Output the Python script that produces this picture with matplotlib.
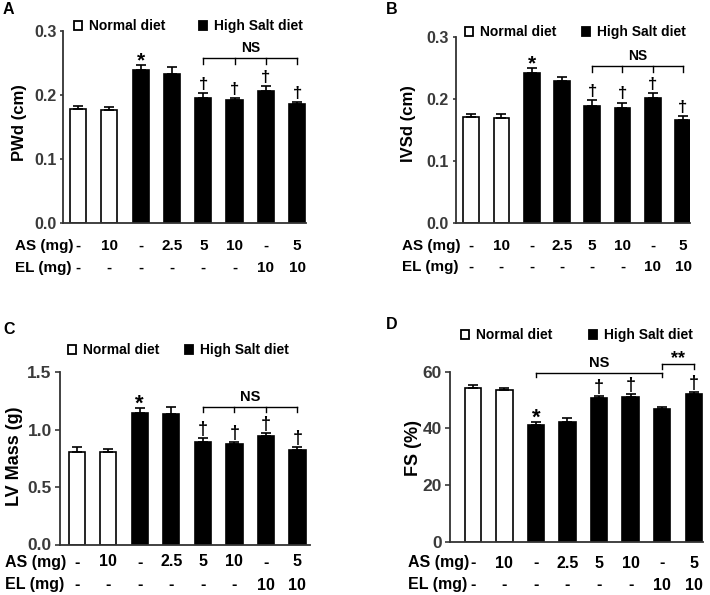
import matplotlib
matplotlib.use('Agg')
import matplotlib.pyplot as plt
from matplotlib.patches import Patch
from matplotlib import transforms
import numpy as np

plt.rcParams['font.family'] = ['Liberation Sans', 'DejaVu Sans']
plt.rcParams['font.weight'] = 'bold'

# groups
as_labels = ['-', '10', '-', '2.5', '5', '10', '-', '5']
el_labels = ['-', '-', '-', '-', '-', '-', '10', '10']
normal_diet = [True, True, False, False, False, False, False, False]

# A: PWd (cm)
pwd_mean = [0.179, 0.177, 0.240, 0.234, 0.196, 0.192, 0.207, 0.186]
pwd_err = [0.004, 0.004, 0.008, 0.010, 0.007, 0.004, 0.008, 0.004]
# B: IVSd (cm)
ivsd_mean = [0.171, 0.169, 0.241, 0.228, 0.189, 0.186, 0.201, 0.166]
ivsd_err = [0.004, 0.006, 0.008, 0.008, 0.009, 0.008, 0.008, 0.007]
# C: LV Mass (g)
lvm_mean = [0.804, 0.804, 1.146, 1.132, 0.892, 0.874, 0.947, 0.819]
lvm_err = [0.047, 0.026, 0.038, 0.064, 0.032, 0.018, 0.021, 0.029]
# D: FS (%)
fs_mean = [54.3, 53.4, 41.3, 42.2, 50.6, 51.1, 46.7, 52.0]
fs_err = [0.9, 0.95, 0.9, 1.5, 0.9, 0.9, 0.9, 0.9]

W, H = 710, 595
fig = plt.figure(figsize=(7.1, 5.95), dpi=100)
DARK = '#333333'


def fx(x):
    return x / W


def fy(y):
    return 1 - y / H


def panel(letter, letter_pos, box, xlim, ylim, yticks, ticklabels, means, errs,
          ylabel, ylabel_pos, star, daggers, brackets, legend_pos, colspace,
          row_x, row_y, fs):
    left, right, top, bottom = box
    ax = fig.add_axes([fx(left), fy(bottom), fx(right - left), (bottom - top) / H])
    x = np.arange(len(means))
    colors = ['white' if n else 'black' for n in normal_diet]
    ax.bar(x, means, 0.52, color=colors, edgecolor='black', linewidth=1.2, zorder=2)
    ax.errorbar(x, means, yerr=[np.zeros(len(errs)), errs], fmt='none',
                ecolor='black', elinewidth=1.2, capsize=3.5, capthick=1.2, zorder=3)
    ax.set_xlim(*xlim)
    ax.set_ylim(*ylim)
    ax.set_xticks([])
    ax.set_yticks(yticks)
    ax.set_yticklabels(ticklabels)
    ax.tick_params(axis='y', direction='out', length=fs['tl'], width=1.2,
                   colors='#3a3a3a', labelsize=fs['tick'], pad=2.5)
    for s in ['top', 'right']:
        ax.spines[s].set_visible(False)
    for s in ['left', 'bottom']:
        ax.spines[s].set_linewidth(1.3)
        ax.spines[s].set_color(DARK)

    tops = [m + e for m, e in zip(means, errs)]
    ax.annotate('*', (star, tops[star]), xytext=(0, fs['star_off']),
                textcoords='offset points', ha='center', va='baseline',
                fontsize=fs['star'], annotation_clip=False)
    for i in daggers:
        ax.annotate('\u2020', (i, tops[i]), xytext=(0, fs['dag_off']),
                    textcoords='offset points', ha='center', va='baseline',
                    fontsize=fs['dag'], annotation_clip=False)

    for ticks, y, tl, txt in brackets:
        ax.plot([ticks[0], ticks[-1]], [y, y], color='black', lw=1.0, clip_on=False)
        for t in ticks:
            ax.plot([t, t], [y, y - tl], color='black', lw=1.0, clip_on=False)
        if txt == '**':
            ax.annotate(txt, ((ticks[0] + ticks[-1]) / 2, y), xytext=(0, 0.5),
                        textcoords='offset points', ha='center', va='baseline',
                        fontsize=13, annotation_clip=False)
        else:
            ax.annotate(txt, ((ticks[0] + ticks[-1]) / 2, y), xytext=(0, 2),
                        textcoords='offset points', ha='center', va='bottom',
                        fontsize=fs['ns'], annotation_clip=False)

    handles = [Patch(facecolor='white', edgecolor='black', linewidth=1.3),
               Patch(facecolor='black', edgecolor='black', linewidth=1.3)]
    fig.legend(handles, ['Normal diet', 'High Salt diet'], ncol=2, frameon=False,
               loc='center left', bbox_to_anchor=(fx(legend_pos[0]), fy(legend_pos[1])),
               borderpad=0, borderaxespad=0, handlelength=0.6, handleheight=0.6,
               handletextpad=0.5, columnspacing=colspace, fontsize=10)

    tr = transforms.blended_transform_factory(ax.transData, fig.transFigure)
    fig.text(fx(row_x), fy(row_y[0]), 'AS (mg)', ha='left', va='center', fontsize=fs['row'])
    fig.text(fx(row_x), fy(row_y[1]), 'EL (mg)', ha='left', va='center', fontsize=fs['row'])
    for i in x:
        ax.text(i, fy(row_y[0]), as_labels[i], transform=tr, ha='center', va='center',
                fontsize=fs['row'])
        ax.text(i, fy(row_y[1]), el_labels[i], transform=tr, ha='center', va='center',
                fontsize=fs['row'])

    fig.text(fx(ylabel_pos[0]), fy(ylabel_pos[1]), ylabel, rotation=90,
             ha='center', va='center', fontsize=fs['ylab'])
    fig.text(fx(letter_pos[0]), fy(letter_pos[1]), letter, ha='left', va='top',
             fontsize=11.5)
    return ax


small = dict(tick=11.5, tl=2.5, row=11, ylab=12, ns=10, dag=12, star=15,
             star_off=-1, dag_off=3)
big = dict(tick=12.5, tl=3.5, row=11.5, ylab=13, ns=10.5, dag=13, star=16,
           star_off=-1, dag_off=3)

panel('A', (3, 2), (63.3, 306, 31.3, 223.3), (-0.47, 7.28), (0, 0.3),
      [0, 0.1, 0.2, 0.3], ['0.0', '0.1', '0.2', '0.3'], pwd_mean, pwd_err,
      'PWd (cm)', (20, 123), 2, [4, 5, 6, 7],
      [([4, 5, 6, 7], 0.258, 0.009, 'NS')], (74, 26), 2.4,
      15, (246, 268), small)

panel('B', (386, 2), (456, 690, 36.7, 223.3), (-0.5, 7.23), (0, 0.3),
      [0, 0.1, 0.2, 0.3], ['0.0', '0.1', '0.2', '0.3'], ivsd_mean, ivsd_err,
      'IVSd (cm)', (408, 124), 2, [4, 5, 6, 7],
      [([4, 5, 6, 7], 0.253, 0.0096, 'NS')], (465, 32), 1.8,
      402, (246, 267), small)

panel('C', (3, 322), (60, 310, 372.2, 544.5), (-0.53, 7.4), (0, 1.5),
      [0, 0.5, 1.0, 1.5], ['0.0', '0.5', '1.0', '1.5'], lvm_mean, lvm_err,
      'LV Mass (g)', (15, 456), 2, [4, 5, 6, 7],
      [([4, 5, 6, 7], 1.199, 0.044, 'NS')], (68, 350), 1.8,
      5, (562, 585), big)

panel('D', (386, 317), (450, 703, 371.7, 541.7), (-0.72, 7.29), (0, 60),
      [0, 20, 40, 60], ['0', '20', '40', '60'], fs_mean, fs_err,
      'FS (%)', (414, 448), 2, [4, 5, 7],
      [([2, 6], 59.6, 1.4, 'NS'), ([6, 7], 62.7, 1.9, '**')], (461, 335), 2.6,
      408, (563, 585), big)

fig.savefig('out.png', dpi=100)
